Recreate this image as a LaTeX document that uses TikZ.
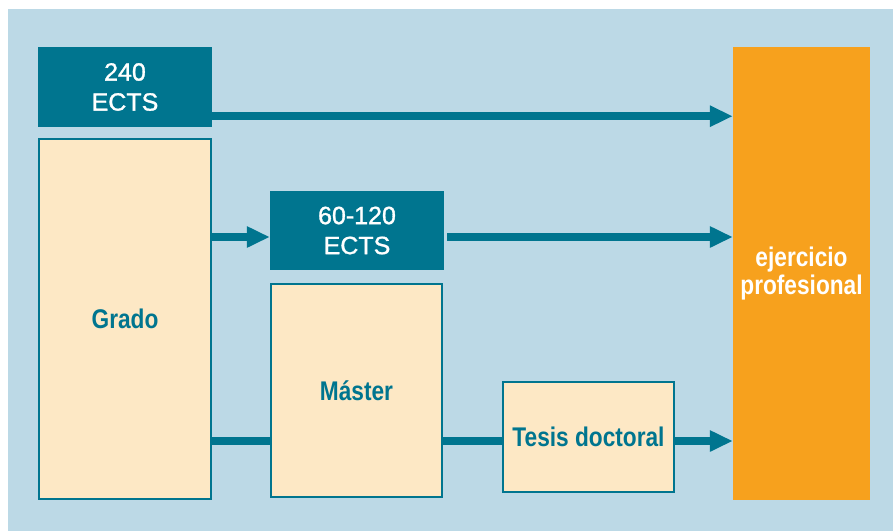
\documentclass[tikz,border=0pt]{standalone}
\usepackage{fontspec}
\setmainfont{Liberation Sans}
\newfontfamily\condfont[FakeStretch=0.84]{Liberation Sans}
\newfontfamily\ectsfont[FakeBold=1.2]{Liberation Sans}
\usetikzlibrary{arrows.meta}
\definecolor{teal}{RGB}{0,117,143}
\definecolor{bgblue}{RGB}{188,217,230}
\definecolor{cream}{RGB}{253,232,197}
\definecolor{orng}{RGB}{247,161,29}
\begin{document}
\begin{tikzpicture}[x=1pt,y=-1pt,
  ectsbox/.style={fill=teal,text=white,inner sep=0pt,align=center,
    font=\ectsfont\fontsize{25}{30}\selectfont},
  stagebox/.style={draw=teal,line width=2.5pt,fill=cream,text=teal,inner sep=0pt,
    align=center,font=\condfont\bfseries\fontsize{27}{28}\selectfont},
  goalbox/.style={fill=orng,text=white,inner sep=0pt,align=center,
    font=\condfont\bfseries\fontsize{27}{28}\selectfont},
  flow/.style={draw=teal,line width=8pt},
  arr/.style={flow,-{Triangle[length=23pt,width=20pt]}}]
\useasboundingbox (0,0) rectangle (893,531);
\fill[bgblue] (8,9) rectangle (893,531);
\node[ectsbox,minimum width=174pt,minimum height=80pt] (e240) at (125,87) {240\\ECTS};
\node[stagebox,minimum width=172pt,minimum height=360pt] (grado) at (125,319) {Grado};
\node[ectsbox,minimum width=174pt,minimum height=79pt] (e60) at (357,230.5) {60-120\\ECTS};
\node[stagebox,minimum width=171pt,minimum height=213pt] (master) at (356.5,390.5) {M\'aster};
\node[stagebox,minimum width=171pt,minimum height=110pt] (tesis) at (588.5,437) {Tesis doctoral};
\node[goalbox,minimum width=137pt,minimum height=453pt] (ej) at (801.5,273.5) {ejercicio\\profesional};
\draw[arr] ([yshift=11pt]e240.south east) -- ([yshift=11pt]e240.south east -| ej.west);
\draw[arr] ([yshift=-6.5pt]e60.west -| grado.east) -- ([yshift=-6.5pt]e60.west);
\draw[arr] ([xshift=3pt,yshift=-6.5pt]e60.east) -- ([yshift=-6.5pt]e60.east -| ej.west);
\draw[flow] ([yshift=-4pt]tesis.west -| grado.east) -- ([yshift=-4pt]tesis.west -| master.west);
\draw[flow] ([yshift=-4pt]tesis.west -| master.east) -- ([yshift=-4pt]tesis.west);
\draw[arr] ([yshift=-4pt]tesis.east) -- ([yshift=-4pt]tesis.east -| ej.west);
\end{tikzpicture}
\end{document}
